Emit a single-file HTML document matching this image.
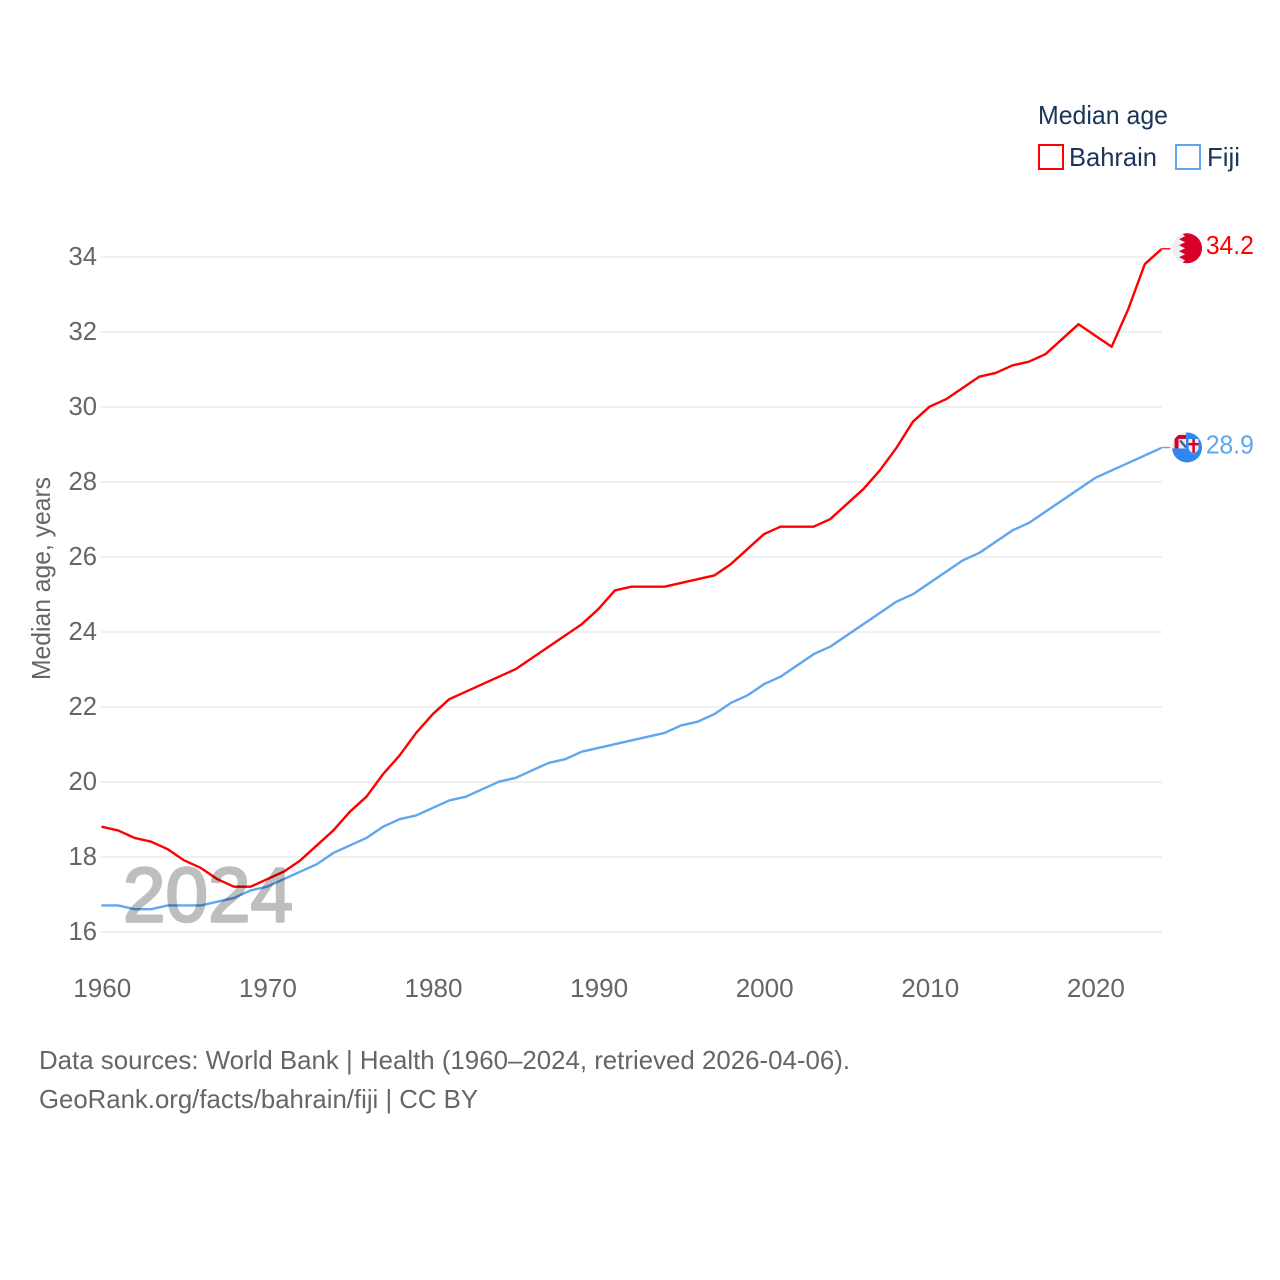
<!DOCTYPE html>
<html lang="en">
<head>
<meta charset="utf-8">
<title>Median age: Bahrain and Fiji</title>
<style>
html,body{margin:0;padding:0;background:#fff;width:1280px;height:1280px;overflow:hidden}
svg{display:block}
text{font-family:"Liberation Sans",sans-serif}
</style>
</head>
<body>
<svg id="chart" width="1280" height="1280" viewBox="0 0 1280 1280" xmlns="http://www.w3.org/2000/svg">
  <rect width="1280" height="1280" fill="#fff"/>
  <g id="grid"></g>
  <g id="yticks"></g>
  <g id="xticks"></g>
  <text transform="translate(50,680) rotate(-90)" font-size="26" fill="#666" textLength="203" lengthAdjust="spacingAndGlyphs">Median age, years</text>
  <g id="series"></g>
  <text x="123" y="921.5" font-size="77" fill="#000" stroke="#000" stroke-width="2.5" stroke-linejoin="round" opacity="0.25" textLength="170" lengthAdjust="spacingAndGlyphs">2024</text>
  <g id="endmarks"></g>
  <g>
    <text x="1038" y="124" font-size="26" fill="#1a3557" textLength="130" lengthAdjust="spacingAndGlyphs">Median age</text>
    <rect x="1039" y="145" width="24" height="24" fill="#fff" stroke="#ff0000" stroke-width="2"/>
    <text x="1069" y="166" font-size="26" fill="#1a3557" textLength="88" lengthAdjust="spacingAndGlyphs">Bahrain</text>
    <rect x="1176" y="145" width="24" height="24" fill="#fff" stroke="#5fa6f0" stroke-width="2"/>
    <text x="1207" y="166" font-size="26" fill="#1a3557" textLength="33" lengthAdjust="spacingAndGlyphs">Fiji</text>
  </g>
  <text x="39" y="1069" font-size="26" fill="#666" textLength="811" lengthAdjust="spacingAndGlyphs">Data sources: World Bank | Health (1960–2024, retrieved 2026-04-06).</text>
  <text x="39" y="1108" font-size="26" fill="#666" textLength="439" lengthAdjust="spacingAndGlyphs">GeoRank.org/facts/bahrain/fiji | CC BY</text>
  <defs>
    <clipPath id="flag-clip"><circle cx="0" cy="0" r="15"/></clipPath>
  </defs>
</svg>
<script>
const startYear = 1960;
const bahrainValues = [18.8,18.7,18.5,18.4,18.2,17.9,17.7,17.4,17.2,17.2,17.4,17.6,17.9,18.3,18.7,19.2,19.6,20.2,20.7,21.3,21.8,22.2,22.4,22.6,22.8,23.0,23.3,23.6,23.9,24.2,24.6,25.1,25.2,25.2,25.2,25.3,25.4,25.5,25.8,26.2,26.6,26.8,26.8,26.8,27.0,27.4,27.8,28.3,28.9,29.6,30.0,30.2,30.5,30.8,30.9,31.1,31.2,31.4,31.8,32.2,31.9,31.6,32.6,33.8,34.2];
const fijiValues = [16.7,16.7,16.6,16.6,16.7,16.7,16.7,16.8,16.9,17.1,17.2,17.4,17.6,17.8,18.1,18.3,18.5,18.8,19.0,19.1,19.3,19.5,19.6,19.8,20.0,20.1,20.3,20.5,20.6,20.8,20.9,21.0,21.1,21.2,21.3,21.5,21.6,21.8,22.1,22.3,22.6,22.8,23.1,23.4,23.6,23.9,24.2,24.5,24.8,25.0,25.3,25.6,25.9,26.1,26.4,26.7,26.9,27.2,27.5,27.8,28.1,28.3,28.5,28.7,28.9];
const yTickValues = [16,18,20,22,24,26,28,30,32,34];
const xTickValues = [1960,1970,1980,1990,2000,2010,2020];

const NS = 'http://www.w3.org/2000/svg';
function xScale(year){ return 101.5 + (year - 1960) * 16.56; }
function yScale(v){ return 932 - (v - 16) * 37.5; }
function make(tag, attrs, parent){
  const el = document.createElementNS(NS, tag);
  for (const k in attrs) el.setAttribute(k, attrs[k]);
  parent.appendChild(el);
  return el;
}
const grid = document.getElementById('grid');
const yticks = document.getElementById('yticks');
const xticks = document.getElementById('xticks');
const seriesG = document.getElementById('series');
const endG = document.getElementById('endmarks');

yTickValues.forEach(function(v){
  const line = make('line', {x1:101, x2:1162, y1:yScale(v), y2:yScale(v), stroke:'#ebebeb', 'stroke-width':1.6}, grid);
  
  
  const t = make('text', {x:68.5, y:yScale(v)+8, 'font-size':26, fill:'#666', textLength:28.5, lengthAdjust:'spacingAndGlyphs'}, yticks);
  t.textContent = String(v);
  
  
});

xTickValues.forEach(function(y){
  const t = make('text', {x:xScale(y)+0.8, y:997, 'font-size':26, fill:'#666', 'text-anchor':'middle', textLength:58, lengthAdjust:'spacingAndGlyphs'}, xticks);
  t.textContent = String(y);
  
  
});

function pathFor(values){
  return values.map(function(v, i){
    return (i ? 'L' : 'M') + xScale(startYear + i).toFixed(2) + ' ' + (yScale(v) - 0.3).toFixed(2);
  }).join(' ');
}

const bahrainLine = make('path', {d:pathFor(bahrainValues), fill:'none', stroke:'#ff0000', 'stroke-width':2.4, 'stroke-linejoin':'round'}, seriesG);


const fijiLine = make('path', {d:pathFor(fijiValues), fill:'none', stroke:'#5fa6f0', 'stroke-width':2.4, 'stroke-linejoin':'round'}, seriesG);



const lastYear = startYear + bahrainValues.length - 1;
const flagX = xScale(lastYear) + 25.7;
const labelX = xScale(lastYear) + 44.5;

// Bahrain end marker
const bVal = bahrainValues[bahrainValues.length - 1];
const bStub = make('line', {x1:xScale(lastYear), x2:xScale(lastYear)+9, y1:yScale(bVal)-0.7, y2:yScale(bVal)-0.7, stroke:'#ff0000', 'stroke-width':1.4}, endG);


const bFlag = make('g', {transform:'translate(' + flagX + ',' + (yScale(bVal) - 1.2) + ')', 'clip-path':'url(#flag-clip)'}, endG);


make('rect', {x:-16, y:-16, width:32, height:32, fill:'#eeeeee'}, bFlag);
make('polygon', {fill:'#d80027', points:'-5,-16 16,-16 16,16 -5,16 -5,15 -2,12 -8,9 -2,6 -8,3 -2,0 -8,-3 -2,-6 -8,-9 -2,-12 -5,-15'}, bFlag);
const bLabel = make('text', {x:labelX, y:yScale(bVal)+4.5, 'font-size':26, fill:'#ff0000', textLength:48, lengthAdjust:'spacingAndGlyphs'}, endG);
bLabel.textContent = bVal.toFixed(1);



// Fiji end marker
const fVal = fijiValues[fijiValues.length - 1];
const fStub = make('line', {x1:xScale(lastYear), x2:xScale(lastYear)+9, y1:yScale(fVal)-0.7, y2:yScale(fVal)-0.7, stroke:'#5fa6f0', 'stroke-width':1.4}, endG);


const fFlag = make('g', {transform:'translate(' + flagX + ',' + (yScale(fVal) - 0.8) + ')', 'clip-path':'url(#flag-clip)'}, endG);


make('rect', {x:-16, y:-16, width:32, height:32, fill:'#2f86ee'}, fFlag);
make('rect', {x:-16, y:-16, width:15, height:17, fill:'#f3eeee'}, fFlag);
make('rect', {x:-16, y:-12.5, width:15, height:4, fill:'#d80027'}, fFlag);
make('rect', {x:-12.5, y:-16, width:4, height:17, fill:'#d80027'}, fFlag);
make('path', {d:'M-7 -7 L-1 0', stroke:'#4a5f9a', 'stroke-width':2.4}, fFlag);
make('path', {d:'M1.5 -8.5 H11.5 V0 Q11.5 4 6.5 6 Q1.5 4 1.5 0 Z', fill:'#f3eeee'}, fFlag);
make('rect', {x:1.5, y:-4.5, width:10, height:2.5, fill:'#d80027'}, fFlag);
make('rect', {x:5.3, y:-8.5, width:2.5, height:14, fill:'#d80027'}, fFlag);
const fLabel = make('text', {x:labelX, y:yScale(fVal)+5, 'font-size':26, fill:'#5fa6f0', textLength:48, lengthAdjust:'spacingAndGlyphs'}, endG);
fLabel.textContent = fVal.toFixed(1);


</script>
</body>
</html>
